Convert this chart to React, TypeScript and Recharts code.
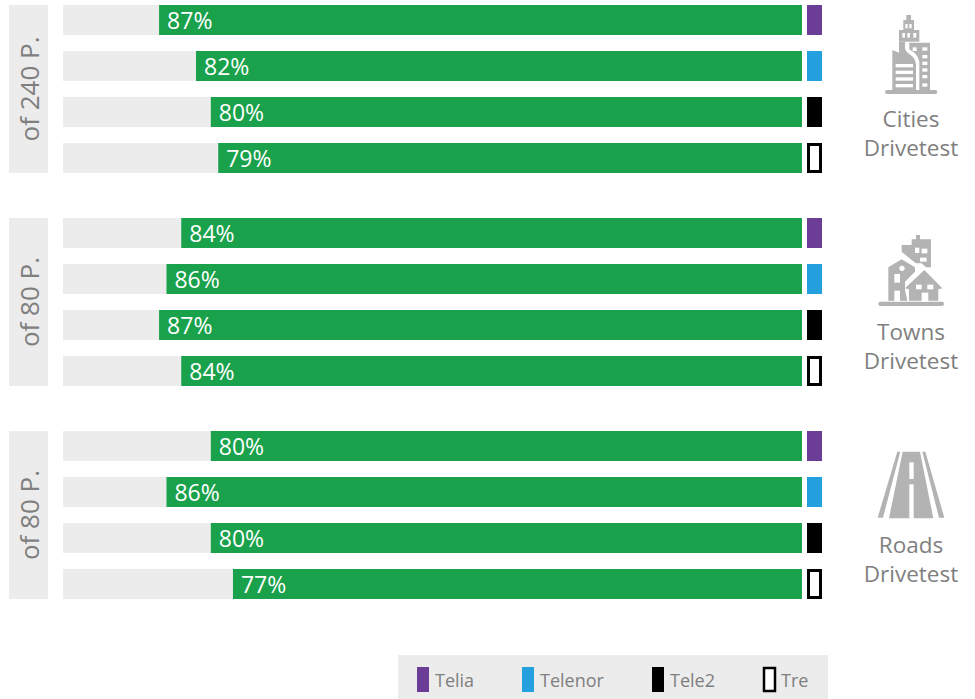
import { BarChart, Bar, XAxis, YAxis, LabelList } from 'recharts';

// ─── Data ───────────────────────────────────────────────────────────────────

const operators = ['Telia', 'Telenor', 'Tele2', 'Tre'];
const citiesValues = [87, 82, 80, 79];
const townsValues = [84, 86, 87, 84];
const roadsValues = [80, 86, 80, 77];
const panelLabels = ['of 240 P.', 'of 80 P.', 'of 80 P.'];
const groupNames = ['Cities', 'Towns', 'Roads'];

// ─── Style ──────────────────────────────────────────────────────────────────

const FONT = '"Open Sans", sans-serif';
const GREEN = '#1AA14B';
const TRACK = '#ECECEC';
const TEXT = '#7F7F7F';
const ICON = '#B3B3B3';
const opColors: Record<string, string> = {
  Telia: '#6B3D97',
  Telenor: '#25A0DE',
  Tele2: '#000000',
  Tre: '#FFFFFF',
};

// the swatch sits just past 100% on the same axis
const X_MAX = 102.7;
const SWATCH_GAP = 0.68;
const SWATCH_SIZE = 2.03;

const GROUP_TOPS = [5, 218, 431];
const LEGEND_X = [417, 522, 652, 763];

function buildRows(values: number[]) {
  return operators.map((op, i) => ({
    op,
    value: values[i],
    rest: 100 - values[i],
    gap: SWATCH_GAP,
    swatch: SWATCH_SIZE,
  }));
}

// ─── Bar label, inside the green bar at its left end ────────────────────────

function PctLabel(props: any) {
  const { x, y, height, value } = props;
  return (
    <text x={x + 8} y={y + height / 2 + 9} fill="#FFFFFF" fontSize={23} fontFamily={FONT}>
      {value}%
    </text>
  );
}

// Tre is an outline kept inside the swatch box
function SwatchShape(props: any) {
  const { x, y, width, height, payload } = props;
  const op = payload.op;
  if (op === 'Tre') {
    return (
      <rect
        x={x + 1.5}
        y={y + 1.5}
        width={width - 3}
        height={height - 3}
        fill="#FFFFFF"
        stroke="#000000"
        strokeWidth={3}
      />
    );
  }
  return <rect x={x} y={y} width={width} height={height} fill={opColors[op]} />;
}

function GroupChart({ values, top }: { values: number[]; top: number }) {
  return (
    <div style={{ position: 'absolute', left: 63, top: top - 8 }}>
      <BarChart
        width={759}
        height={184}
        data={buildRows(values)}
        layout="vertical"
        margin={{ top: 0, right: 0, bottom: 0, left: 0 }}
        barSize={30}
      >
        <XAxis type="number" domain={[0, X_MAX]} hide />
        <YAxis type="category" dataKey="op" hide />
        <Bar dataKey="rest" stackId="a" fill={TRACK} isAnimationActive={false} />
        <Bar dataKey="value" stackId="a" fill={GREEN} isAnimationActive={false}>
          <LabelList dataKey="value" content={<PctLabel />} />
        </Bar>
        <Bar dataKey="gap" stackId="a" fill="transparent" isAnimationActive={false} />
        <Bar dataKey="swatch" stackId="a" shape={<SwatchShape />} isAnimationActive={false} />
      </BarChart>
    </div>
  );
}

// ─── Icons, drawn by hand ───────────────────────────────────────────────────

function Windows({ rects }: { rects: number[][] }) {
  return (
    <>
      {rects.map(([x, y, w, h], i) => (
        <rect key={i} x={x} y={y} width={w} height={h} fill="#FFFFFF" />
      ))}
    </>
  );
}

function CityIcon() {
  return (
    <g transform="translate(790,0) scale(0.3333)" fill={ICON}>
      <rect x={285} y={270} width={157} height={12} rx={6} />
      <rect x={349} y={45} width={14} height={16} />
      <rect x={340} y={60} width={32} height={30} />
      <rect x={327} y={90} width={61} height={35} />
      <path d="M307,150 L327,158 L327,125 L345,125 L345,145 Q346,155 358,162 L368,170 Q378,180 378,192 L378,272 L307,272 Z" />
      <path d="M358,128 L420,128 L420,272 L388,272 L388,185 Q385,170 375,160 L358,148 Z" />
      <Windows
        rects={[
          [346, 72, 7, 13], [358, 72, 7, 13],
          [337, 99, 8, 14], [352, 99, 8, 14], [370, 99, 9, 14],
          [368, 142, 12, 11], [397, 142, 15, 10],
          [397, 165, 15, 10], [397, 185, 15, 10], [397, 205, 15, 10], [397, 225, 15, 10], [397, 250, 15, 10],
          [317, 192, 52, 10], [317, 212, 52, 10], [317, 232, 52, 10], [317, 252, 52, 10],
        ]}
      />
    </g>
  );
}

function TownIcon() {
  return (
    <g transform="translate(790,210) scale(0.3333)" fill={ICON}>
      <rect x={265} y={275} width={197} height={13} rx={6} />
      <path d="M378,75 L390,75 L390,88 L423,88 L423,172 L408,172 L395,160 L378,160 L365,150 L335,125 L335,105 L365,105 L365,88 L378,88 Z" />
      <path d="M295,172 L335,148 L375,172 L375,185 L345,215 L345,240 L352,272 L295,272 Z" />
      <path d="M345,235 L403,180 L457,235 L445,238 L445,272 L357,272 L357,238 Z" />
      <circle cx={336} cy={175} r={8} fill="#FFFFFF" />
      <Windows
        rects={[
          [375, 113, 13, 16], [395, 116, 17, 14], [390, 143, 20, 12],
          [313, 192, 17, 26], [313, 242, 17, 32],
          [378, 224, 17, 14], [412, 224, 18, 14], [395, 248, 20, 27],
        ]}
      />
    </g>
  );
}

function RoadIcon() {
  return (
    <g transform="translate(790,425) scale(0.3333)" fill={ICON}>
      <polygon points="322,80 331,80 279,278 263,278" />
      <polygon points="397,80 406,80 463,278 447,278" />
      <polygon points="338,80 390,80 430,280 297,280" />
      <Windows rects={[[358, 112, 13, 50], [358, 178, 13, 102]]} />
    </g>
  );
}

// ─── Main component ─────────────────────────────────────────────────────────

export default function App() {
  const groups = [citiesValues, townsValues, roadsValues];

  return (
    <div style={{ position: 'absolute', left: 0, top: 0, width: 975, height: 699, background: '#FFFFFF', overflow: 'hidden' }}>
      {groups.map((values, i) => (
        <GroupChart key={i} values={values} top={GROUP_TOPS[i]} />
      ))}

      <svg width={975} height={699} style={{ position: 'absolute', left: 0, top: 0 }} fontFamily={FONT}>
        {/* Panels on the left */}
        {panelLabels.map((label, i) => {
          const cy = GROUP_TOPS[i] + 84;
          return (
            <g key={i}>
              <rect x={9} y={GROUP_TOPS[i]} width={39} height={168} fill={TRACK} />
              <text
                x={29}
                y={cy}
                transform={`rotate(-90 29 ${cy})`}
                textAnchor="middle"
                dominantBaseline="central"
                fontSize={26}
                fill={TEXT}
              >
                {label}
              </text>
            </g>
          );
        })}

        <CityIcon />
        <TownIcon />
        <RoadIcon />

        {/* Group names on the right */}
        {groupNames.map((name, i) => (
          <g key={name} textAnchor="middle" fontSize={22.5} fill={TEXT}>
            <text x={911} y={GROUP_TOPS[i] + 122}>{name}</text>
            <text x={911} y={GROUP_TOPS[i] + 151}>Drivetest</text>
          </g>
        ))}

        {/* Legend */}
        <rect x={398} y={655} width={430} height={44} fill={TRACK} />
        {operators.map((op, i) => (
          <g key={op}>
            <rect
              x={LEGEND_X[i] + (op === 'Tre' ? 1 : 0)}
              y={op === 'Tre' ? 668 : 667}
              width={op === 'Tre' ? 11 : 12}
              height={op === 'Tre' ? 23 : 25}
              fill={opColors[op]}
              stroke={op === 'Tre' ? '#000000' : 'none'}
              strokeWidth={op === 'Tre' ? 2.5 : 0}
            />
            <text x={LEGEND_X[i] + 18} y={687} fontSize={18} fill={TEXT}>
              {op}
            </text>
          </g>
        ))}
      </svg>
    </div>
  );
}
